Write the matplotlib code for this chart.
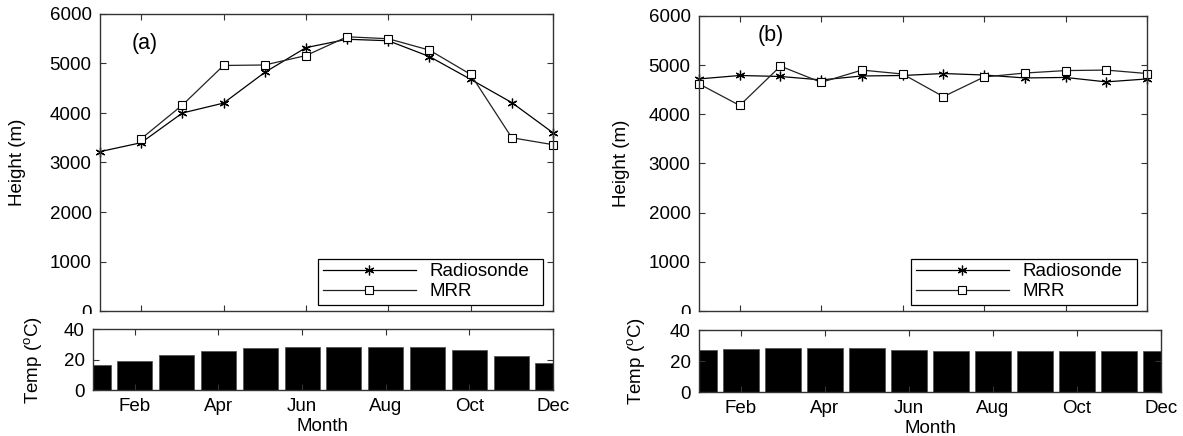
import numpy as np
import matplotlib
matplotlib.use("Agg")
import matplotlib.pyplot as plt
from matplotlib.transforms import Bbox, TransformedBbox

plt.rcParams['font.family'] = ['Liberation Sans', 'DejaVu Sans']
plt.rcParams['mathtext.fontset'] = 'custom'
plt.rcParams['mathtext.rm'] = 'Liberation Sans'

months = np.arange(1, 13)
month_ticks = [2, 4, 6, 8, 10, 12]
month_labels = ['Feb', 'Apr', 'Jun', 'Aug', 'Oct', 'Dec']

# panel (a)
radio_a = [3220, 3400, 4000, 4200, 4820, 5320, 5490, 5460, 5140, 4680, 4210, 3600]
mrr_a = [np.nan, 3480, 4160, 4960, 4970, 5160, 5540, 5500, 5270, 4780, 3500, 3360]
temp_a = [16.2, 19.1, 22.7, 25.8, 27.4, 28.3, 28.5, 28.5, 28.1, 26.1, 22.5, 18.0]

# panel (b)
radio_b = [4720, 4790, 4770, 4700, 4780, 4790, 4830, 4800, 4740, 4750, 4660, 4720]
mrr_b = [4620, 4180, 4980, 4650, 4900, 4820, 4360, 4760, 4840, 4890, 4900, 4830]
temp_b = [27.2, 27.8, 28.4, 28.4, 28.4, 27.2, 26.3, 26.5, 26.5, 26.5, 26.5, 26.5]

W, H = 1183, 436
fig = plt.figure(figsize=(W / 100, H / 100), dpi=100)

def rect(x0, y0, x1, y1):
    # pixel box -> figure fraction
    return [x0 / W, 1 - y1 / H, (x1 - x0) / W, (y1 - y0) / H]

fs = 13.5
edge = '#333333'
asterisk = (6, 2, 0)

def style(ax):
    for s in ax.spines.values():
        s.set_color(edge)
        s.set_linewidth(1.0)
    ax.tick_params(direction='in', top=True, right=True, length=4,
                   labelsize=fs, color=edge, width=0.8, pad=6)

def top_panel(box, radio, mrr, tag, tagpos, legx, labx):
    ax = fig.add_axes(rect(*box))
    ax.plot(months, radio, color='black', lw=0.9, marker=asterisk, ms=7,
            mew=0.9, mec='black', label='Radiosonde', clip_on=False)
    ax.plot(months, mrr, color='#222222', lw=0.9, marker='s', ms=5.5,
            mfc='white', mec='black', mew=0.8, label='MRR', clip_on=False)
    ax.set_xlim(1, 12)
    ax.set_ylim(0, 6000)
    ax.set_xticks(month_ticks)
    ax.set_xticklabels([])
    ax.set_yticks(range(0, 6001, 1000))
    style(ax)
    ax.set_ylabel('Height (m)', fontsize=fs)
    ax.yaxis.set_label_coords(labx, 0.5)
    ax.text(tagpos[0], tagpos[1], tag, transform=ax.transAxes,
            fontsize=15.5, ha='center', va='center')
    leg = ax.legend(loc='lower left', bbox_to_anchor=(legx, 0.02, 0.978 - legx, 0.18),
                    mode='expand', borderaxespad=0, fontsize=fs, numpoints=1,
                    handlelength=5.0, fancybox=False, framealpha=1,
                    edgecolor='black', borderpad=0.25, labelspacing=0.15,
                    handletextpad=0.7)
    leg.get_frame().set_linewidth(0.9)
    return ax

def bottom_panel(box, temp, labx):
    ax = fig.add_axes(rect(*box))
    ax.bar(months, temp, width=0.84, color='black', edgecolor='#555555', lw=0.6)
    ax.set_xlim(1, 12)
    ax.set_ylim(0, 40)
    ax.set_yticks([0, 20, 40])
    ax.set_xticks(month_ticks)
    ax.set_xticklabels(month_labels)
    style(ax)
    ax.set_ylabel(r'Temp ($\mathregular{^o}$C)', fontsize=fs)
    ax.yaxis.set_label_coords(labx, 0.5)
    ax.set_xlabel('Month', fontsize=fs, labelpad=2)
    return ax

ax1 = top_panel((100, 14, 553, 311), radio_a, mrr_a, '(a)', (0.099, 0.90), 0.481, -0.164)
ax2 = bottom_panel((93, 329, 553, 390), temp_a, -0.107)

ax3 = top_panel((699, 16, 1147, 311), radio_b, mrr_b, '(b)', (0.16, 0.935), 0.473, -0.154)
ax4 = bottom_panel((699, 330, 1161, 392), temp_b, -0.113)

# the "0" of the top panels is cut off by the panel below in the original
for ax in (ax1, ax3):
    lab = ax.get_yticklabels()[0]
    clip = TransformedBbox(Bbox([[0, 1 - 314 / H], [1, 1]]), fig.transFigure)
    lab.set_clip_box(clip)
    lab.set_clip_on(True)

fig.savefig('out.png', dpi=100)
